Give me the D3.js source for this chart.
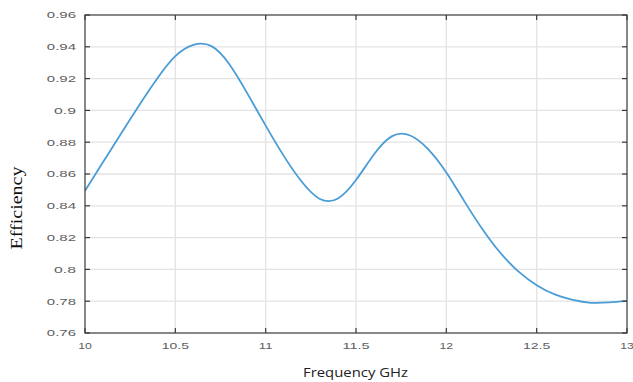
<!DOCTYPE html>
<html>
<head>
<meta charset="utf-8">
<script src="https://cdn.jsdelivr.net/npm/d3@7/dist/d3.min.js"></script>
<style>
  body { margin: 0; background: #fff; }
  svg { display: block; }
</style>
</head>
<body>
<svg width="633" height="382"></svg>
<script>
// data, every 0.1 GHz
var freq = [10.0, 10.1, 10.2, 10.3, 10.4, 10.5, 10.6, 10.7, 10.8, 10.9, 11.0,
            11.1, 11.2, 11.3, 11.4, 11.5, 11.6, 11.7, 11.8, 11.9, 12.0,
            12.1, 12.2, 12.3, 12.4, 12.5, 12.6, 12.7, 12.8, 12.9, 13.0];
var efficiency = [0.8495, 0.8675, 0.8855, 0.9033, 0.9201, 0.9341, 0.9412, 0.9404, 0.9289, 0.9104, 0.8904,
                  0.8714, 0.8551, 0.8443, 0.8446, 0.8562, 0.8724, 0.8838, 0.8842, 0.8755, 0.8610,
                  0.8428, 0.8253, 0.8103, 0.7986, 0.7901, 0.7843, 0.7808, 0.7790, 0.7792, 0.7802];
var xTicks = [10, 10.5, 11, 11.5, 12, 12.5, 13];
var yTicks = [0.76, 0.78, 0.8, 0.82, 0.84, 0.86, 0.88, 0.9, 0.92, 0.94, 0.96];

var margins = { top: 15, bottom: 49, left: 85, right: 6 };
var width = 633, height = 382;

var svg = d3.select("svg");

var xScale = d3.scaleLinear().domain([10, 13]).range([margins.left, width - margins.right]);
var yScale = d3.scaleLinear().domain([0.76, 0.96]).range([height - margins.bottom, margins.top]);

var x0 = xScale.range()[0], x1 = xScale.range()[1];
var y0 = yScale.range()[0], y1 = yScale.range()[1];

/** grid */
svg.append("g").selectAll("line.gx")
  .data(xTicks.slice(1, -1)).enter().append("line")
  .attr("x1", d => xScale(d)).attr("x2", d => xScale(d))
  .attr("y1", y1).attr("y2", y0)
  .attr("stroke", "#e3e3e3").attr("stroke-width", 1.3);
svg.append("g").selectAll("line.gy")
  .data(yTicks.slice(1, -1)).enter().append("line")
  .attr("x1", x0).attr("x2", x1)
  .attr("y1", d => yScale(d)).attr("y2", d => yScale(d))
  .attr("stroke", "#e3e3e3").attr("stroke-width", 1.3);

/** curve */
var line = d3.line()
  .x((d, i) => xScale(freq[i]))
  .y(d => yScale(d))
  .curve(d3.curveNatural);

svg.append("path")
  .datum(efficiency)
  .attr("d", line)
  .attr("fill", "none")
  .attr("stroke", "#4a9dd6")
  .attr("stroke-width", 1.8);

/** box + inward ticks on all sides */
var axisColor = "#3a3a3a";
svg.append("rect")
  .attr("x", x0).attr("y", y1)
  .attr("width", x1 - x0).attr("height", y0 - y1)
  .attr("fill", "none").attr("stroke", axisColor).attr("stroke-width", 1.2);

var tk = 5;
var ticks = svg.append("g").attr("stroke", axisColor).attr("stroke-width", 1.2);
xTicks.forEach(d => {
  ticks.append("line").attr("x1", xScale(d)).attr("x2", xScale(d)).attr("y1", y0).attr("y2", y0 - tk);
  ticks.append("line").attr("x1", xScale(d)).attr("x2", xScale(d)).attr("y1", y1).attr("y2", y1 + tk);
});
yTicks.forEach(d => {
  ticks.append("line").attr("x1", x0).attr("x2", x0 + tk).attr("y1", yScale(d)).attr("y2", yScale(d));
  ticks.append("line").attr("x1", x1).attr("x2", x1 - tk).attr("y1", yScale(d)).attr("y2", yScale(d));
});

/** tick labels (wide, squat look of the original) */
var labelFont = "'Liberation Sans', Arial, sans-serif";
svg.append("g").selectAll("text")
  .data(yTicks).enter().append("text")
  .attr("x", x0 - 9)
  .attr("y", d => yScale(d) + 3.3)
  .attr("text-anchor", "end")
  .attr("font-family", labelFont)
  .attr("font-size", 9.5)
  .attr("fill", "#5e5e5e")
  .attr("textLength", d => String(d).length * 7.3)
  .attr("lengthAdjust", "spacingAndGlyphs")
  .text(d => String(d));

svg.append("g").selectAll("text")
  .data(xTicks).enter().append("text")
  .attr("x", d => xScale(d))
  .attr("y", y0 + 15.5)
  .attr("text-anchor", "middle")
  .attr("font-family", labelFont)
  .attr("font-size", 9.5)
  .attr("fill", "#5e5e5e")
  .attr("textLength", d => String(d).length * 6.8)
  .attr("lengthAdjust", "spacingAndGlyphs")
  .text(d => String(d));

/** axis titles */
svg.append("text")
  .attr("transform", "translate(22," + ((y0 + y1) / 2 + 34) + ") rotate(-90)")
  .attr("text-anchor", "middle")
  .attr("font-family", "'Liberation Serif', 'Times New Roman', serif")
  .attr("font-size", 16)
  .attr("fill", "#111")
  .attr("textLength", 83)
  .attr("lengthAdjust", "spacingAndGlyphs")
  .text("Efficiency");

svg.append("text")
  .attr("x", 355.5)
  .attr("y", 376.5)
  .attr("text-anchor", "middle")
  .attr("font-family", "'Open Sans', sans-serif")
  .attr("font-size", 12.5)
  .attr("fill", "#222")
  .attr("textLength", 105)
  .attr("lengthAdjust", "spacingAndGlyphs")
  .text("Frequency GHz");
</script>
</body>
</html>
